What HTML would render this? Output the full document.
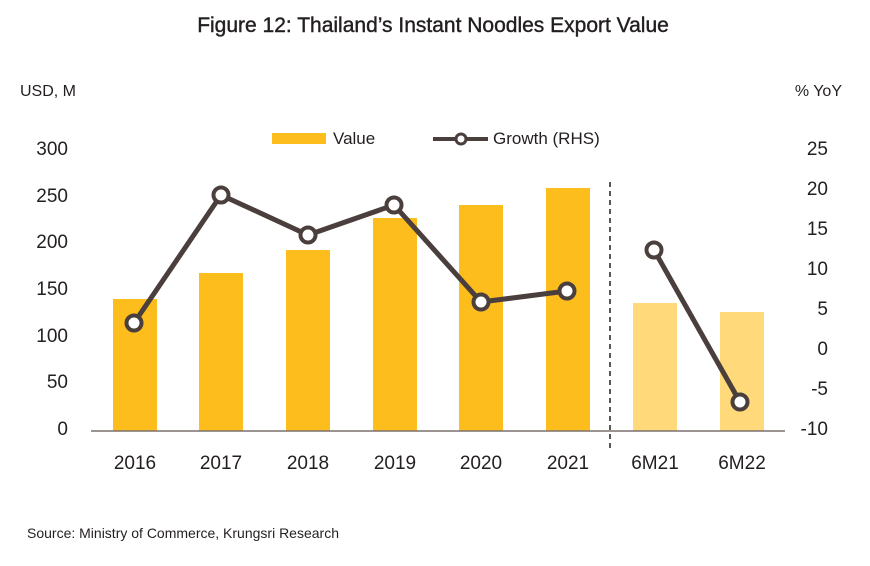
<!DOCTYPE html>
<html><head><style>
body{margin:0;background:#fff;}
svg text{font-family:"Liberation Sans",sans-serif;fill:#231f20;}
</style></head><body>
<svg width="870" height="561" viewBox="0 0 870 561" xmlns="http://www.w3.org/2000/svg">
<text x="433" y="32" font-size="21" text-anchor="middle" fill="#231f20" stroke="#231f20" stroke-width="0.4">Figure 12: Thailand’s Instant Noodles Export Value</text>
<text x="20" y="96" font-size="16">USD, M</text>
<text x="842" y="96" font-size="16" text-anchor="end">% YoY</text>
<g font-size="19" text-anchor="end">
<text x="68" y="155">300</text><text x="68" y="202">250</text><text x="68" y="248">200</text>
<text x="68" y="295">150</text><text x="68" y="342">100</text><text x="68" y="388">50</text><text x="68" y="435">0</text>
</g>
<g font-size="19" text-anchor="end">
<text x="828" y="155">25</text><text x="828" y="195">20</text><text x="828" y="235">15</text>
<text x="828" y="275">10</text><text x="828" y="315">5</text><text x="828" y="355">0</text>
<text x="828" y="395">-5</text><text x="828" y="435">-10</text>
</g>
<g fill="#fdbd1d">
<rect x="113" y="299" width="44" height="132"/>
<rect x="199" y="273" width="44" height="158"/>
<rect x="286" y="250" width="44" height="181"/>
<rect x="373" y="218" width="44" height="213"/>
<rect x="459" y="205" width="44" height="226"/>
<rect x="546" y="188" width="44" height="243"/>
</g>
<g fill="#ffd97a">
<rect x="633" y="303" width="44" height="128"/>
<rect x="720" y="312" width="44" height="119"/>
</g>
<line x1="91" y1="431" x2="785" y2="431" stroke="#7a716f" stroke-width="1.5"/>
<line x1="610" y1="182" x2="610" y2="448" stroke="#231f20" stroke-width="1.5" stroke-dasharray="5,4"/>
<g font-size="19" text-anchor="middle">
<text x="135" y="469">2016</text><text x="221" y="469">2017</text><text x="308" y="469">2018</text>
<text x="395" y="469">2019</text><text x="481" y="469">2020</text><text x="568" y="469">2021</text>
<text x="655" y="469">6M21</text><text x="742" y="469">6M22</text>
</g>
<polyline points="134,323 221,195 308,235 394,205 481,302 567,291" fill="none" stroke="#4a3f3d" stroke-width="5"/>
<polyline points="654,250 740,402" fill="none" stroke="#4a3f3d" stroke-width="5"/>
<g fill="#fff" stroke="#4a3f3d" stroke-width="4">
<circle cx="134" cy="323" r="7.5"/><circle cx="221" cy="195" r="7.5"/><circle cx="308" cy="235" r="7.5"/>
<circle cx="394" cy="205" r="7.5"/><circle cx="481" cy="302" r="7.5"/><circle cx="567" cy="291" r="7.5"/>
<circle cx="654" cy="250" r="7.5"/><circle cx="740" cy="402" r="7.5"/>
</g>
<rect x="272" y="133" width="54" height="11" fill="#fdbd1d"/>
<text x="333" y="144" font-size="17">Value</text>
<line x1="433" y1="139" x2="488" y2="139" stroke="#4a3f3d" stroke-width="4"/>
<circle cx="461" cy="139" r="5" fill="#fff" stroke="#4a3f3d" stroke-width="3"/>
<text x="493" y="144" font-size="17">Growth (RHS)</text>
<text x="27" y="538" font-size="14">Source: Ministry of Commerce, Krungsri Research</text>
</svg>
</body></html>
